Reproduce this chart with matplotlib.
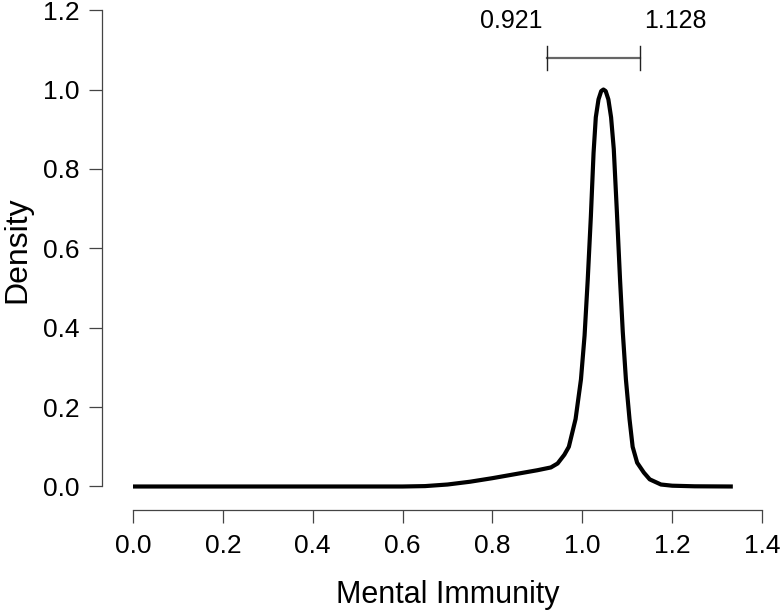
import matplotlib
matplotlib.use("Agg")
import matplotlib.pyplot as plt

plt.rcParams['font.family'] = ['Liberation Sans', 'DejaVu Sans']

# Density curve
mi_x = [0.00, 0.10, 0.20, 0.30, 0.40, 0.50, 0.60, 0.65, 0.70, 0.75, 0.80, 0.85,
        0.90, 0.93, 0.945, 0.96, 0.97, 0.985, 0.997, 1.005, 1.012, 1.019, 1.025,
        1.030, 1.036, 1.042, 1.047, 1.052, 1.058, 1.064, 1.070, 1.077, 1.084,
        1.090, 1.097, 1.105, 1.112, 1.122, 1.137, 1.150, 1.175, 1.200, 1.250, 1.335]
density = [0.0, 0.0, 0.0, 0.0, 0.0, 0.0, 0.0, 0.001, 0.005, 0.012, 0.021, 0.031,
           0.041, 0.048, 0.058, 0.08, 0.10, 0.17, 0.27, 0.38, 0.52, 0.68, 0.84,
           0.93, 0.975, 0.996, 1.0, 0.996, 0.975, 0.93, 0.85, 0.69, 0.52,
           0.39, 0.27, 0.17, 0.10, 0.06, 0.035, 0.018, 0.005, 0.002, 0.0005, 0.0]

ci_low, ci_high = 0.921, 1.128
ci_labels = ["0.921", "1.128"]

x_ticks = [0.0, 0.2, 0.4, 0.6, 0.8, 1.0, 1.2, 1.4]
y_ticks = [0.0, 0.2, 0.4, 0.6, 0.8, 1.0, 1.2]
x_tick_labels = ["0.0", "0.2", "0.4", "0.6", "0.8", "1.0", "1.2", "1.4"]
y_tick_labels = ["0.0", "0.2", "0.4", "0.6", "0.8", "1.0", "1.2"]

fig = plt.figure(figsize=(7.8, 6.12), dpi=100)
ax = fig.add_axes([102/780, 102/612, 668/780, 506/612])

ax.plot(mi_x, density, color='black', lw=3.0, solid_capstyle='butt',
        solid_joinstyle='round')

# CI bar
bar_y = 1.079
ax.plot([ci_low, ci_high], [bar_y, bar_y], color='#666666', lw=1.6)
for v in (ci_low, ci_high):
    ax.plot([v, v], [bar_y - 0.03, bar_y + 0.03], color='#222222', lw=1.0)
ax.annotate(ci_labels[0], (ci_low, 1.172), xytext=(-3, 0), textcoords='offset points',
            ha='right', va='center', fontsize=18)
ax.annotate(ci_labels[1], (ci_high, 1.172), xytext=(3, 0), textcoords='offset points',
            ha='left', va='center', fontsize=18)

ax.set_xlim(-0.069, 1.4177)
ax.set_ylim(-0.0592, 1.2154)

for s in ('top', 'right'):
    ax.spines[s].set_visible(False)
ax.spines['left'].set_bounds(0, 1.2)
ax.spines['bottom'].set_bounds(0, 1.4)
for s in ('left', 'bottom'):
    ax.spines[s].set_color('#444444')
    ax.spines[s].set_linewidth(0.9)

ax.set_xticks(x_ticks)
ax.set_xticklabels(x_tick_labels)
ax.set_yticks(y_ticks)
ax.set_yticklabels(y_tick_labels)
ax.tick_params(axis='both', direction='out', length=9.4, width=0.9, color='#444444',
               labelsize=19)
ax.tick_params(axis='y', pad=7)
ax.tick_params(axis='x', pad=8)

ax.set_xlabel("Mental Immunity", fontsize=22)
ax.set_ylabel("Density", fontsize=23)
ax.xaxis.set_label_coords((448 - 102) / 668, -(612 - 510 - 2) / 506)
ax.xaxis.label.set_va('bottom')
ax.yaxis.set_label_coords(-(102 - 2) / 668, (510 - 250) / 506)
ax.yaxis.label.set_va('top')

fig.savefig("out.png", dpi=100)
